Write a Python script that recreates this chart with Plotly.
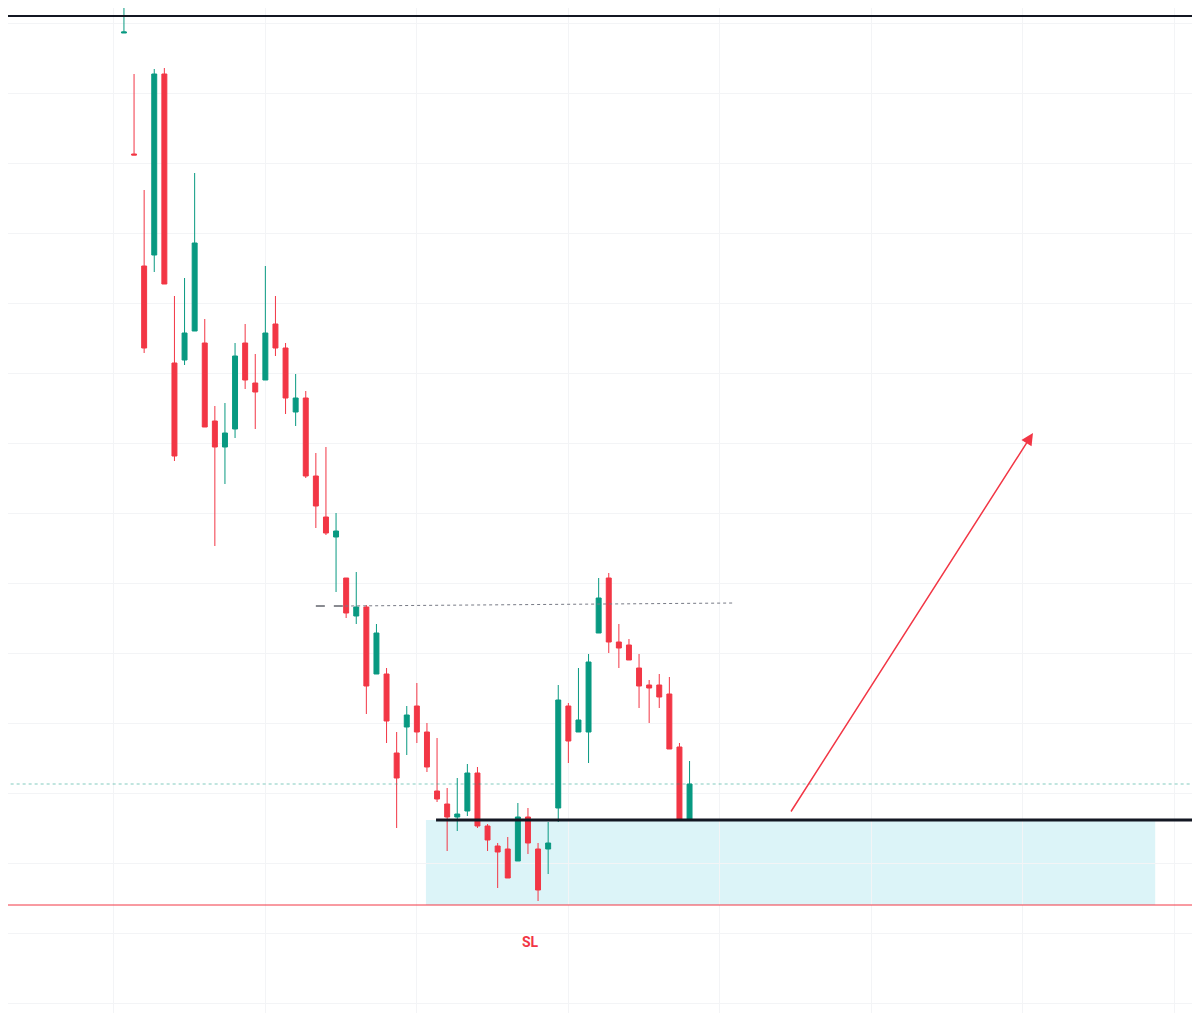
import plotly.graph_objects as go

# candle index (x) and prices
idx = list(range(-1, 56))
opens = [98.0, 85.9, 74.7, 75.8, 93.9, 65.0, 65.3, 68.2, 67.0, 59.2, 56.6, 58.4, 67.0, 63.0, 63.3,
         68.9, 66.5, 60.1, 61.5, 53.7, 49.6, 47.6, 43.5, 39.7, 40.6, 33.9, 33.9, 26.0, 28.6, 30.7,
         28.1, 22.2, 20.9, 19.6, 20.2, 24.0, 18.7, 16.7, 16.4, 15.2, 19.6, 16.4, 16.4, 20.5, 30.7,
         28.1, 28.1, 38.0, 43.5, 37.1, 36.8, 34.5, 32.8, 32.8, 31.9, 26.6, 19.3]
highs = [101.8, 93.9, 82.3, 94.4, 94.5, 71.7, 73.5, 84.0, 69.4, 60.7, 61.0, 67.0, 68.9, 65.9, 74.7,
         71.7, 67.0, 63.9, 62.2, 56.0, 56.6, 50.0, 43.5, 44.1, 40.8, 38.9, 34.5, 28.1, 30.7, 33.0,
         29.0, 27.5, 22.5, 23.5, 24.9, 24.6, 18.9, 17.0, 17.6, 21.0, 20.5, 17.0, 19.1, 32.8, 31.0,
         34.5, 35.9, 43.5, 44.0, 38.9, 37.4, 35.9, 33.3, 33.9, 33.6, 27.0, 25.2]
lows = [98.0, 85.8, 66.0, 74.1, 72.9, 55.2, 64.8, 68.2, 58.6, 46.7, 52.9, 57.5, 62.4, 58.4, 63.3,
        65.7, 59.9, 58.7, 53.5, 48.5, 47.8, 42.1, 39.5, 38.9, 29.9, 33.9, 27.0, 18.5, 25.8, 27.0,
        24.1, 21.1, 16.2, 18.2, 19.7, 18.5, 16.2, 12.5, 13.5, 15.2, 15.9, 11.2, 13.9, 19.1, 25.0,
        28.1, 25.0, 38.0, 36.0, 34.5, 35.3, 30.5, 29.0, 30.5, 26.4, 19.3, 19.3]
closes = [98.1, 85.8, 66.5, 93.9, 72.9, 55.7, 68.0, 77.0, 58.6, 56.6, 58.0, 65.7, 63.3, 62.1, 68.0,
          66.5, 61.5, 61.5, 53.7, 50.7, 48.0, 48.2, 40.0, 40.6, 32.7, 38.0, 29.2, 23.5, 29.8, 28.1,
          24.6, 21.4, 19.6, 19.9, 24.0, 18.7, 17.3, 16.1, 13.5, 19.6, 17.0, 12.3, 17.0, 31.3, 27.2,
          29.3, 35.1, 41.5, 37.1, 36.5, 35.3, 32.7, 32.5, 31.6, 26.4, 19.3, 22.9]

# drawn levels
top_level = 99.7
entry_level = 19.3
sl_level = 10.8
dotted_level = 22.9

UP = '#089981'
DOWN = '#f23645'

fig = go.Figure(go.Candlestick(
    x=idx, open=opens, high=highs, low=lows, close=closes,
    increasing=dict(line=dict(color=UP, width=1), fillcolor=UP),
    decreasing=dict(line=dict(color=DOWN, width=1), fillcolor=DOWN),
    whiskerwidth=0, showlegend=False,
))

# demand zone
fig.add_shape(type='rect', x0=28.9, x1=101.1, y0=sl_level, y1=entry_level,
              fillcolor='rgba(178,230,240,0.45)', line_width=0, layer='below')
fig.add_shape(type='line', x0=-14, x1=107, y0=top_level, y1=top_level,
              line=dict(color='#131722', width=2))
fig.add_shape(type='line', x0=29.9, x1=107, y0=entry_level, y1=entry_level,
              line=dict(color='#131722', width=3))
fig.add_shape(type='line', x0=-14, x1=107, y0=sl_level, y1=sl_level,
              line=dict(color=DOWN, width=1))
fig.add_shape(type='line', x0=-14, x1=107, y0=dotted_level, y1=dotted_level,
              line=dict(color='rgba(8,153,129,0.5)', width=1, dash='dot'))
fig.add_shape(type='line', x0=18.0, x1=20.9, y0=40.7, y1=40.7,
              line=dict(color='#131722', width=1, dash='dash'))
fig.add_shape(type='line', x0=20.9, x1=59.5, y0=40.7, y1=41.0,
              line=dict(color='#787b86', width=1, dash='dot'))

# projected move
fig.add_annotation(x=89.0, y=58.0, ax=64.95, ay=20.0, xref='x', yref='y', axref='x', ayref='y',
                   text='', showarrow=True, arrowhead=2, arrowsize=1.6, arrowwidth=1.5,
                   arrowcolor=DOWN)
fig.add_annotation(x=39.3, y=7.1, text='<b>SL</b>', showarrow=False,
                   font=dict(color=DOWN, size=14, family='Roboto'))

fig.update_layout(
    width=1200, height=1013,
    margin=dict(l=0, r=0, t=0, b=0),
    plot_bgcolor='white', paper_bgcolor='white',
    xaxis=dict(range=[-12.48, 106.33], rangeslider=dict(visible=False), showticklabels=False,
               showgrid=True, gridcolor='#f3f4f6', tick0=-2, dtick=15, zeroline=False),
    yaxis=dict(range=[-0.8, 100.5], showticklabels=False, showgrid=True, gridcolor='#f3f4f6',
               tick0=1, dtick=7, zeroline=False),
)

fig.write_html('out.html')
